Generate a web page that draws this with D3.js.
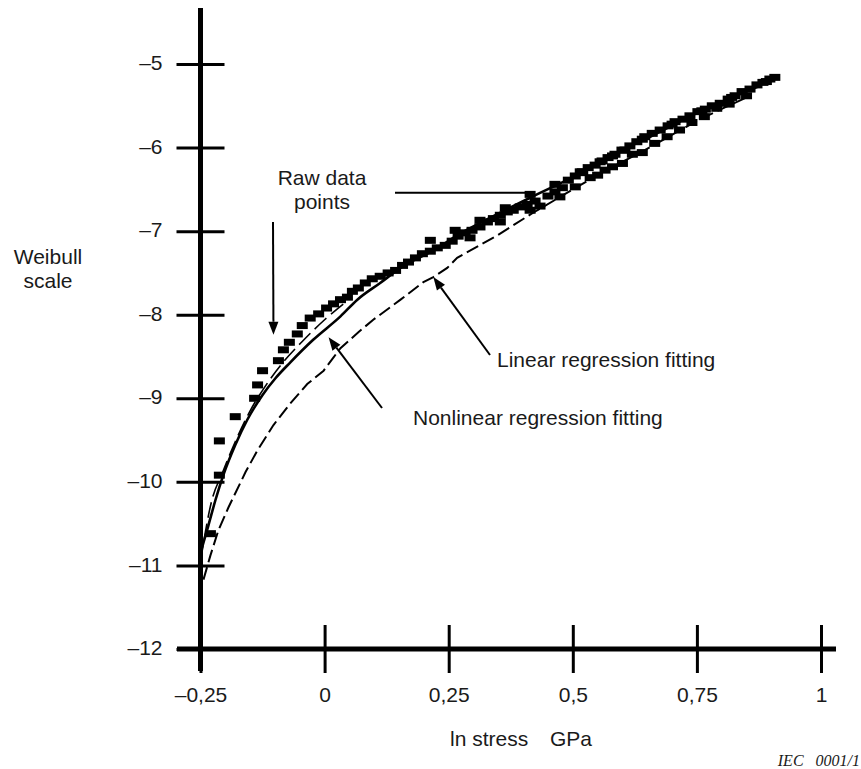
<!DOCTYPE html>
<html>
<head>
<meta charset="utf-8">
<script src="https://cdn.jsdelivr.net/npm/d3@7"></script>
<style>
  body { margin: 0; background: #fff; }
  svg { display: block; }
  text { font-family: "Liberation Sans", Arial, sans-serif; fill: #1a1a1a; }
</style>
</head>
<body>
<svg id="chart" width="861" height="769"></svg>
<script>
// Axis ticks
const xTicks = [-0.25, 0, 0.25, 0.5, 0.75, 1];
const xTickLabels = ["–0,25", "0", "0,25", "0,5", "0,75", "1"];
const yTicks = [-12, -11, -10, -9, -8, -7, -6, -5];
const yTickLabels = ["–12", "–11", "–10", "–9", "–8", "–7", "–6", "–5"];

// Raw data points (ln stress, Weibull scale)
const rawX = [-0.230, -0.212, -0.212, -0.180, -0.141, -0.135, -0.125, -0.093, -0.083, -0.071, -0.055, -0.045, -0.029,
  -0.012, 0.004, 0.018, 0.032, 0.046, 0.056, 0.068, 0.082, 0.096, 0.112, 0.128, 0.143, 0.157, 0.169, 0.183, 0.197,
  0.213, 0.227, 0.243, 0.257, 0.269, 0.283, 0.297, 0.313, 0.328, 0.340, 0.354, 0.368, 0.380, 0.394, 0.408, 0.424,
  0.450, 0.464, 0.479, 0.491, 0.505, 0.519, 0.531, 0.545, 0.559, 0.571, 0.585, 0.599, 0.615, 0.629, 0.645, 0.660,
  0.676, 0.692, 0.706, 0.722, 0.736, 0.752, 0.767, 0.781, 0.797, 0.813, 0.827, 0.841, 0.857, 0.871, 0.883, 0.897, 0.907,
  0.293, 0.354, 0.414, 0.434, 0.474, 0.505, 0.535, 0.565, 0.600, 0.640, 0.690, 0.740, 0.790,
  0.213, 0.263, 0.313, 0.364, 0.414, 0.464, 0.515, 0.555, 0.605,
  0.550, 0.580, 0.620, 0.665, 0.715, 0.765, 0.815, 0.850,
  0.520, 0.580, 0.640, 0.700, 0.760, 0.820, 0.890];
const rawY = [-10.62, -9.92, -9.51, -9.22, -9.00, -8.84, -8.67, -8.55, -8.42, -8.33, -8.23, -8.13, -8.04,
  -7.99, -7.92, -7.87, -7.82, -7.79, -7.72, -7.68, -7.62, -7.57, -7.54, -7.50, -7.47, -7.41, -7.37, -7.32, -7.27,
  -7.24, -7.20, -7.17, -7.12, -7.06, -7.02, -6.99, -6.95, -6.89, -6.85, -6.81, -6.77, -6.75, -6.71, -6.68, -6.64,
  -6.58, -6.53, -6.48, -6.39, -6.34, -6.29, -6.24, -6.21, -6.16, -6.12, -6.08, -6.03, -5.98, -5.93, -5.87, -5.83,
  -5.79, -5.74, -5.69, -5.66, -5.62, -5.57, -5.54, -5.50, -5.47, -5.42, -5.38, -5.33, -5.30, -5.25, -5.22, -5.18, -5.16,
  -7.08, -6.89, -6.75, -6.70, -6.59, -6.47, -6.36, -6.27, -6.19, -6.06, -5.87, -5.70, -5.53,
  -7.11, -6.99, -6.87, -6.72, -6.56, -6.44, -6.29, -6.17, -6.03,
  -6.33, -6.23, -6.08, -5.95, -5.79, -5.63, -5.48, -5.38,
  -6.30, -6.10, -5.90, -5.72, -5.56, -5.40, -5.21];

// Nonlinear regression fit
const nonlinX = [-0.250, -0.234, -0.220, -0.204, -0.180, -0.156, -0.125, -0.099, -0.069, -0.023, 0.032, 0.066,
  0.112, 0.153, 0.219, 0.273, 0.334, 0.414, 0.501, 0.595, 0.656, 0.756, 0.837, 0.877];
const nonlinY = [-10.85, -10.52, -10.22, -9.92, -9.56, -9.26, -8.96, -8.76, -8.57, -8.30, -8.02, -7.82,
  -7.62, -7.44, -7.23, -7.03, -6.84, -6.60, -6.35, -6.04, -5.87, -5.57, -5.36, -5.26];

// Companion fit drawn close to the nonlinear curve at low stress
const trendX = [-0.250, -0.228, -0.205, -0.180, -0.150, -0.120, -0.085, -0.045, 0.000, 0.040];
const trendY = [-10.95, -10.24, -9.88, -9.52, -9.15, -8.86, -8.58, -8.32, -8.06, -7.86];

// Linear regression fit
const linX = [-0.244, -0.230, -0.214, -0.194, -0.159, -0.135, -0.103, -0.069, -0.035, -0.002, 0.018, 0.032, 0.068,
  0.098, 0.153, 0.199, 0.219, 0.247, 0.267, 0.348, 0.420, 0.489, 0.555, 0.636, 0.756, 0.857];
const linY = [-11.17, -10.88, -10.58, -10.31, -9.88, -9.62, -9.32, -9.06, -8.83, -8.67, -8.51, -8.40, -8.21,
  -8.06, -7.82, -7.61, -7.55, -7.44, -7.32, -7.05, -6.78, -6.54, -6.31, -6.06, -5.66, -5.38];

const FONT = '"Liberation Sans", Arial, sans-serif';
const FS = 21;

const svg = d3.select("#chart");
svg.append("rect").attr("width", 861).attr("height", 769).attr("fill", "#fff");

const x = d3.scaleLinear().domain([-0.25, 1]).range([200.5, 821]);
const y = d3.scaleLinear().domain([-12, -5]).range([649, 64]);

const x0 = x(-0.25), y0 = y(-12);

// Axes with ticks crossing the axis line
const yAxis = d3.axisLeft(y).tickValues(yTicks)
  .tickFormat((d, i) => yTickLabels[i]).tickSize(24).tickPadding(14);
const gy = svg.append("g").attr("transform", `translate(${x0},0)`).call(yAxis);
gy.select(".domain").remove();
gy.selectAll(".tick line").attr("x1", -24).attr("x2", 24).attr("stroke", "#000").attr("stroke-width", 3);
gy.selectAll(".tick text").attr("font-size", FS).attr("fill", "#1a1a1a").attr("dy", "0.27em")
  .style("font-family", FONT);

const xAxis = d3.axisBottom(x).tickValues(xTicks)
  .tickFormat((d, i) => xTickLabels[i]).tickSize(24);
const gx = svg.append("g").attr("transform", `translate(0,${y0})`).call(xAxis);
gx.select(".domain").remove();
gx.selectAll(".tick line").attr("y1", -24).attr("y2", 24).attr("stroke", "#000").attr("stroke-width", 3);
gx.selectAll(".tick text").attr("font-size", FS).attr("fill", "#1a1a1a").attr("y", 53).attr("dy", 0)
  .style("font-family", FONT);

// Heavy axis lines
svg.append("line").attr("x1", x0).attr("x2", x0).attr("y1", 8).attr("y2", 671)
  .attr("stroke", "#000").attr("stroke-width", 5);
svg.append("line").attr("x1", 177).attr("x2", 836).attr("y1", y0).attr("y2", y0)
  .attr("stroke", "#000").attr("stroke-width", 5);

// Axis titles
const yt = svg.append("text").attr("font-size", FS).attr("text-anchor", "middle");
yt.append("tspan").attr("x", 48).attr("y", 264).text("Weibull");
yt.append("tspan").attr("x", 48).attr("y", 288).text("scale");
const xt = svg.append("text").attr("font-size", FS).attr("y", 746);
xt.append("tspan").attr("x", 450).text("ln stress");
xt.append("tspan").attr("x", 550).text("GPa");
svg.append("text").attr("x", 860).attr("y", 766).attr("font-size", 16).attr("text-anchor", "end")
  .attr("font-style", "italic").style("font-family", '"Liberation Serif", "Times New Roman", serif')
  .attr("xml:space", "preserve").text("IEC   0001/1");

// Curves
const plot = svg.append("g");
const line = d3.line().x(d => x(d[0])).y(d => y(d[1]));

plot.append("path").datum(d3.zip(linX, linY)).attr("d", line)
  .attr("fill", "none").attr("stroke", "#000").attr("stroke-width", 2)
  .attr("stroke-dasharray", "13,5");

plot.append("path").datum(d3.zip(trendX, trendY)).attr("d", line.curve(d3.curveMonotoneX))
  .attr("fill", "none").attr("stroke", "#000").attr("stroke-width", 1.6)
  .attr("stroke-dasharray", "16,6");

plot.append("path").datum(d3.zip(nonlinX, nonlinY)).attr("d", line.curve(d3.curveMonotoneX))
  .attr("fill", "none").attr("stroke", "#000").attr("stroke-width", 2.6);

// Raw data marks
plot.selectAll("rect.raw").data(d3.zip(rawX, rawY)).join("rect").attr("class", "raw")
  .attr("x", d => x(d[0]) - 5.5).attr("y", d => y(d[1]) - 3.5)
  .attr("width", 11).attr("height", 7).attr("fill", "#000");

// Annotations (anchored in data coordinates)
function arrow(fromPx, tip) {
  const [tx, ty] = [x(tip[0]), y(tip[1])];
  const [fx, fy] = fromPx;
  const ang = Math.atan2(ty - fy, tx - fx);
  const L = 13, W = 5;
  const bx = tx - L * Math.cos(ang), by = ty - L * Math.sin(ang);
  svg.append("line").attr("x1", fx).attr("y1", fy).attr("x2", bx).attr("y2", by)
    .attr("stroke", "#000").attr("stroke-width", 2);
  svg.append("path").attr("fill", "#000").attr("d",
    `M${tx},${ty}L${bx + W * Math.sin(ang)},${by - W * Math.cos(ang)}L${bx - W * Math.sin(ang)},${by + W * Math.cos(ang)}Z`);
}

const rl = svg.append("text").attr("font-size", FS).attr("text-anchor", "middle");
rl.append("tspan").attr("x", 322).attr("y", 185).text("Raw data");
rl.append("tspan").attr("x", 322).attr("y", 209).text("points");
svg.append("line").attr("x1", 395).attr("x2", x(0.41)).attr("y1", y(-6.54)).attr("y2", y(-6.54))
  .attr("stroke", "#000").attr("stroke-width", 2);
arrow([273, 222], [-0.103, -8.24]);

svg.append("text").attr("x", 497).attr("y", 367).attr("font-size", FS).text("Linear regression fitting");
arrow([490, 355], [0.219, -7.55]);

svg.append("text").attr("x", 413).attr("y", 425).attr("font-size", FS).text("Nonlinear regression fitting");
arrow([382, 408], [0.008, -8.27]);
</script>
</body>
</html>
